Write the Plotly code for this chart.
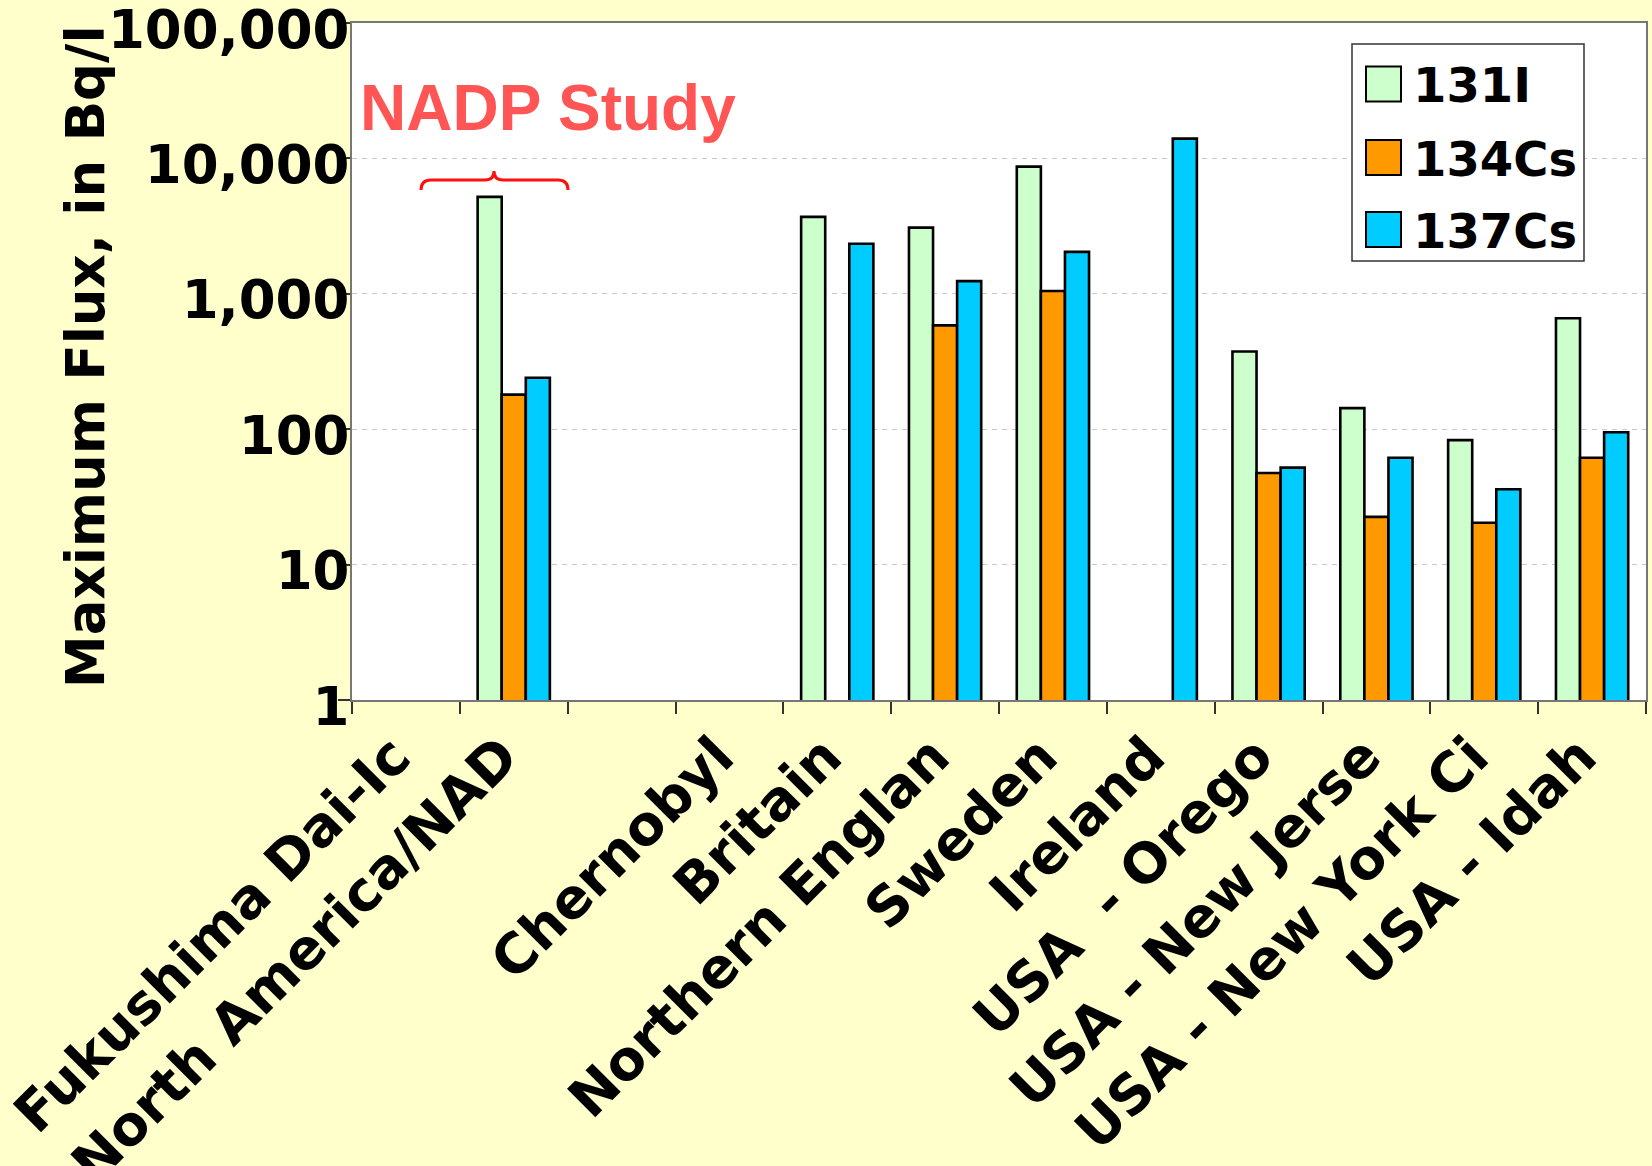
import plotly.graph_objects as go

# ---------------- data ----------------
categories = ["Fukushima Dai-Ic", "North America/NAD", " ", "Chernobyl", "Britain",
              "Northern Englan", "Sweden", "Ireland", "USA  - Orego",
              "USA - New Jerse", "USA - New York Ci", "USA - Idah"]
series_names = ["131I", "134Cs", "137Cs"]
i131 = [None, 5200, None, None, 3700, 3080, 8700, None, 375, 143, 83, 660]
cs134 = [None, 180, None, None, None, 585, 1050, None, 47.5, 22.5, 20.4, 61.5]
cs137 = [None, 240, None, None, 2340, 1240, 2040, 14000, 52, 61.5, 36, 95]
series_values = [i131, cs134, cs137]
series_colors = ["#CCFFCC", "#FF9900", "#00CCFF"]
y_tickvals = [1, 10, 100, 1000, 10000, 100000]
y_ticktext = ["1", "10", "100", "1,000", "10,000", "100,000"]
y_title = "Maximum Flux, in Bq/l"
note_text = "NADP Study"

# ---------------- layout geometry ----------------
W, H = 1652, 1166
L, R, T, B = 352, 6, 23, 466
PW, PH = W - L - R, H - T - B
FONT = "DejaVu Sans"


def px(x):
    return (x - L) / PW


def py(y):
    return (H - B - y) / PH


fig = go.Figure()
for name, vals, col in zip(series_names, series_values, series_colors):
    fig.add_trace(go.Bar(
        x=categories, y=vals, name=name,
        marker=dict(color=col, line=dict(color="black", width=2.6)),
        showlegend=False,
    ))

shapes = []
annotations = []

# custom legend (large swatches as in the reference)
shapes.append(dict(type="rect", xref="paper", yref="paper",
                   x0=px(1352), x1=px(1584), y0=py(261), y1=py(44),
                   fillcolor="white", line=dict(color="#333333", width=1.5), layer="above"))
row_centers = [84, 157.5, 229.5]
for name, col, yc in zip(series_names, series_colors, row_centers):
    shapes.append(dict(type="rect", xref="paper", yref="paper",
                       x0=px(1366), x1=px(1401), y0=py(yc + 17.5), y1=py(yc - 17.5),
                       fillcolor=col, line=dict(color="black", width=2), layer="above"))
    annotations.append(dict(xref="paper", yref="paper", x=px(1411), y=py(yc + 1),
                            xanchor="left", yanchor="middle", showarrow=False,
                            text=name,
                            font=dict(family=FONT, size=48, color="black", weight="bold")))

# y-axis title (placed as rotated text in the left margin)
annotations.append(dict(xref="paper", yref="paper", x=px(85), y=py(357),
                        xanchor="center", yanchor="middle", showarrow=False,
                        textangle=-90, text=y_title,
                        font=dict(family=FONT, size=53, color="black", weight="bold")))

# NADP study note with brace
annotations.append(dict(xref="paper", yref="paper", x=px(358), y=py(108),
                        xanchor="left", yanchor="middle", showarrow=False,
                        text=note_text,
                        font=dict(family="Liberation Sans", size=64, color="#FF5555",
                                  weight="bold")))
pts = [(421, 190), (421, 180), (431, 180), (485, 180), (494, 180), (494, 171),
       (494, 180), (503, 180), (558, 180), (568, 180), (568, 190)]
P = [(px(a), py(b)) for a, b in pts]
path = (f"M {P[0][0]},{P[0][1]} Q {P[1][0]},{P[1][1]} {P[2][0]},{P[2][1]} "
        f"L {P[3][0]},{P[3][1]} Q {P[4][0]},{P[4][1]} {P[5][0]},{P[5][1]} "
        f"Q {P[6][0]},{P[6][1]} {P[7][0]},{P[7][1]} L {P[8][0]},{P[8][1]} "
        f"Q {P[9][0]},{P[9][1]} {P[10][0]},{P[10][1]}")
shapes.append(dict(type="path", xref="paper", yref="paper", path=path,
                   line=dict(color="#FF1010", width=3)))

fig.update_layout(
    width=W, height=H,
    margin=dict(l=L, r=R, t=T, b=B, pad=0),
    paper_bgcolor="#FFFFCC", plot_bgcolor="white",
    barmode="group", bargap=0.33, bargroupgap=0,
    showlegend=False,
    shapes=shapes, annotations=annotations,
    font=dict(family=FONT, color="black"),
)
fig.update_xaxes(
    type="category", categoryorder="array", categoryarray=categories,
    tickson="boundaries", ticks="outside", ticklen=12, tickwidth=2, tickcolor="#333333",
    tickangle=-45, tickfont=dict(family=FONT, size=55, color="black", weight="bold"),
    ticklabelshift=-12,
    showline=True, linecolor="#777777", linewidth=2, mirror=True,
    showgrid=False, automargin=False, ticklabeloverflow="allow",
)
fig.update_yaxes(
    type="log", range=[0, 5], tickvals=y_tickvals, ticktext=y_ticktext,
    ticks="outside", ticklen=12, tickwidth=2, tickcolor="#333333",
    tickfont=dict(family=FONT, size=53, color="black", weight="bold"),
    ticklabelstandoff=-22, ticklabelshift=6,
    showline=True, linecolor="#777777", linewidth=2, mirror=True,
    showgrid=True, gridcolor="#C8C8C8", gridwidth=1, griddash="5px,5px",
    automargin=False, ticklabeloverflow="allow",
)

fig.write_html(
    "out.html",
    config={"displayModeBar": False},
    post_script="document.body.style.margin='0';document.body.style.background='#FFFFCC';",
)
